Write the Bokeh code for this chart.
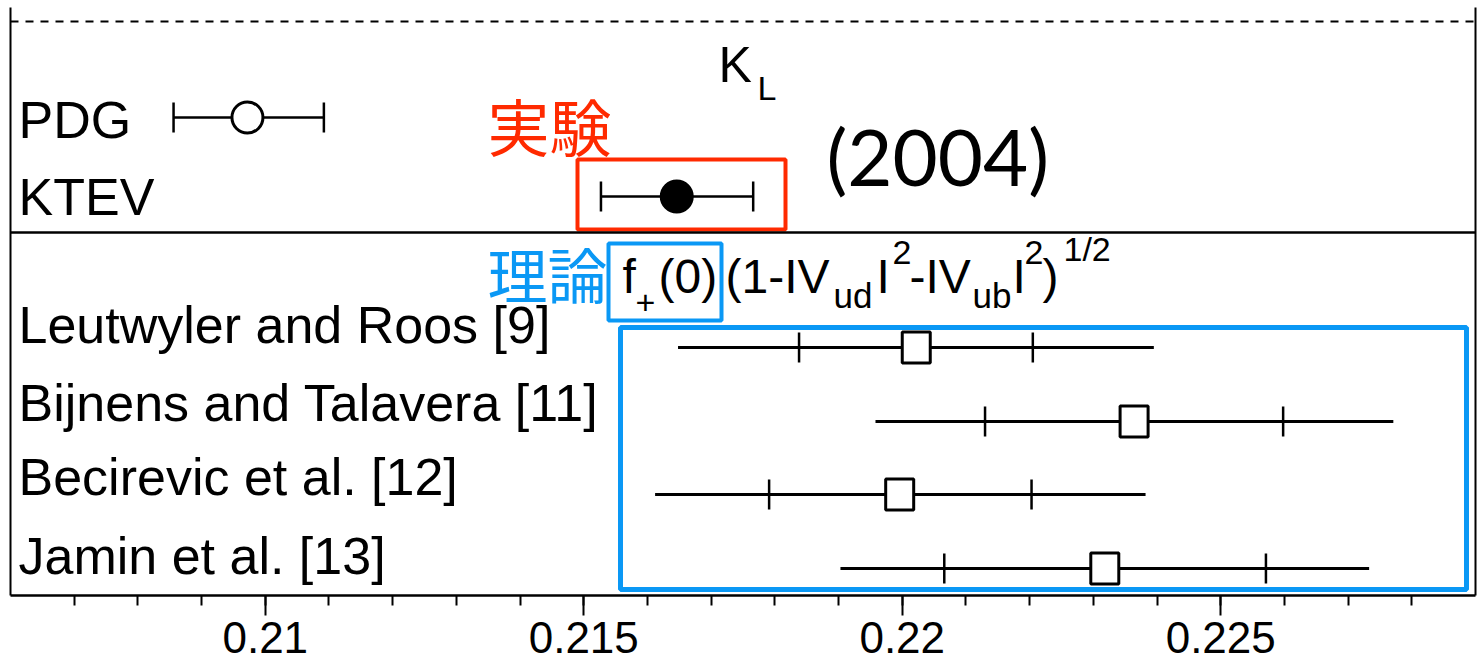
import numpy as np
from bokeh.plotting import figure
from bokeh.models import Range1d, LinearAxis, FixedTicker, CustomJSTickFormatter, Span
from bokeh.core.properties import value
from bokeh.embed import file_html
from bokeh.resources import INLINE

# ---------------- data ----------------
expt_names = ["PDG", "KTEV"]
expt_central = [0.20972, 0.21646]
expt_lo = [0.20856, 0.21527]
expt_hi = [0.21092, 0.21766]
expt_filled = [False, True]

theory_names = ["Leutwyler and Roos [9]", "Bijnens and Talavera [11]",
                "Becirevic et al. [12]", "Jamin et al. [13]"]
theory_central = [0.22022, 0.22364, 0.21996, 0.22318]
theory_inner_lo = [0.21838, 0.22130, 0.21791, 0.22066]
theory_inner_hi = [0.22205, 0.22598, 0.22203, 0.22571]
theory_outer_lo = [0.21648, 0.21958, 0.21612, 0.21903]
theory_outer_hi = [0.22395, 0.22771, 0.22382, 0.22733]

tick_values = [0.21, 0.215, 0.22, 0.225]
tick_labels = ["0.21", "0.215", "0.22", "0.225"]
minor_ticks = [round(0.207 + 0.001 * i, 3) for i in range(22)]

# ---------------- layout ----------------
X_START, X_END = 0.206, 0.229
FRAME_L, FRAME_R = 10, 1475
PXU = (FRAME_R - FRAME_L) / (X_END - X_START)


def px(xp):
    return X_START + (xp - FRAME_L) / PXU


# vertical positions (y range runs top=7 .. bottom=595)
expt_y = [117, 196]
theory_y = [347, 421, 494, 568]
expt_label_y = [140, 217]
theory_label_y = [345, 423, 497, 576]

RED = "#ff2a00"
BLUE = "#0a98f5"
SANS = "Liberation Sans"
# empirical shift of the rendered baseline (fraction of font size)
BASE_SHIFT = {SANS: 0.40, "Lato": 0.44, "Noto Sans CJK JP": 0.43}

p = figure(width=1484, height=665, x_range=Range1d(X_START, X_END),
           y_range=Range1d(595, 7), output_backend="svg", toolbar_location=None,
           x_axis_type=None, y_axis_type=None,
           min_border_left=FRAME_L, min_border_right=1484 - FRAME_R,
           min_border_top=7, min_border_bottom=70)
p.outline_line_color = None
p.background_fill_color = "white"
p.border_fill_color = "white"

xaxis = LinearAxis(
    ticker=FixedTicker(ticks=tick_values, minor_ticks=minor_ticks),
    formatter=CustomJSTickFormatter(
        args=dict(vals=tick_values, labs=tick_labels),
        code="const i = vals.findIndex(v => Math.abs(v - tick) < 1e-9); return i >= 0 ? labs[i] : '';"),
    major_tick_in=0, major_tick_out=20, minor_tick_in=0, minor_tick_out=10,
    major_tick_line_width=2, minor_tick_line_width=2, axis_line_width=2.5,
    major_label_standoff=6,
    major_label_text_font=SANS, major_label_text_font_size="44px",
    major_label_text_color="black")
p.add_layout(xaxis, "below")

for side in ("left", "right"):
    ax = LinearAxis(ticker=FixedTicker(ticks=[]), major_tick_out=0, major_tick_in=0,
                    minor_tick_out=0, minor_tick_in=0, major_label_standoff=0,
                    major_label_text_font_size="0px", axis_line_width=2)
    p.add_layout(ax, side)

# separators
p.add_layout(Span(location=21, dimension="width", line_color="black",
                  line_width=2, line_dash="8 7"))
p.add_layout(Span(location=232, dimension="width", line_color="black", line_width=2.5))

# highlight boxes
p.quad(left=[px(577)], right=[px(785)], top=[159], bottom=[229],
       fill_color=None, line_color=RED, line_width=4)
p.quad(left=[px(608)], right=[px(721)], top=[243], bottom=[320],
       fill_color=None, line_color=BLUE, line_width=4)
p.quad(left=[px(620)], right=[px(1466)], top=[327], bottom=[589],
       fill_color=None, line_color=BLUE, line_width=5)

# experimental points
p.segment(x0=expt_lo, y0=expt_y, x1=expt_hi, y1=expt_y, line_color="black", line_width=2.5)
p.scatter(x=expt_lo + expt_hi, y=expt_y + expt_y, marker="dash", angle=np.pi / 2,
          size=30, line_color="black", line_width=2.5)
p.scatter(x=expt_central, y=expt_y, marker="circle", size=31,
          fill_color=["black" if f else "white" for f in expt_filled],
          line_color="black", line_width=3)

# theory points
p.segment(x0=theory_outer_lo, y0=theory_y, x1=theory_outer_hi, y1=theory_y,
          line_color="black", line_width=3)
p.scatter(x=theory_inner_lo + theory_inner_hi, y=theory_y + theory_y, marker="dash",
          angle=np.pi / 2, size=30, line_color="black", line_width=2.5)
p.rect(x=theory_central, y=theory_y, width=28, height=31, width_units="screen",
       height_units="screen", fill_color="white", line_color="black", line_width=3)

LABEL_SIZE = 52


def by(baseline, size, font=SANS):
    return baseline - BASE_SHIFT[font] * size


# row labels
p.text(x=[px(18)] * len(expt_names), y=[by(b, LABEL_SIZE) for b in expt_label_y],
       text=expt_names, text_font=value(SANS), text_font_size=f"{LABEL_SIZE}px",
       text_color="black", text_baseline="alphabetic", text_align="left")
p.text(x=[px(18)] * len(theory_names), y=[by(b, LABEL_SIZE) for b in theory_label_y],
       text=theory_names, text_font=value(SANS), text_font_size=f"{LABEL_SIZE}px",
       text_color="black", text_baseline="alphabetic", text_align="left")


def put(txt, xp, yb, size, color="black", font=SANS):
    p.text(x=[px(xp)], y=[by(yb, size, font)], text=[txt], text_font=value(font),
           text_font_size=f"{size}px", text_color=color,
           text_baseline="alphabetic", text_align="left")


# K_L
put("K", 718, 84, 50)
put("L", 757, 101, 34)
# year
put("(2004)", 826, 190, 78, font="Lato")
# Japanese labels
put("実験", 487, 151, 62, color=RED, font="Noto Sans CJK JP")
put("理論", 487, 298, 60, color=BLUE, font="Noto Sans CJK JP")
# formula f+(0)(1-IVudI^2-IVubI^2)^1/2
formula = [("f", 622, 295, 48), ("+", 635, 316, 34), ("(0)", 658, 295, 48),
           ("(1-IV", 725, 295, 48), ("ud", 833, 309, 35), ("I", 876, 295, 48),
           ("2", 892, 266, 34), ("-IV", 909, 295, 48), ("ub", 972, 309, 35),
           ("I", 1012, 295, 48), ("2", 1024, 266, 34), (")", 1042, 295, 48),
           ("1/2", 1063, 262, 34)]
for t, xp, yb, s in formula:
    put(t, xp, yb, s)

open("out.html", "w").write(file_html(p, INLINE))
